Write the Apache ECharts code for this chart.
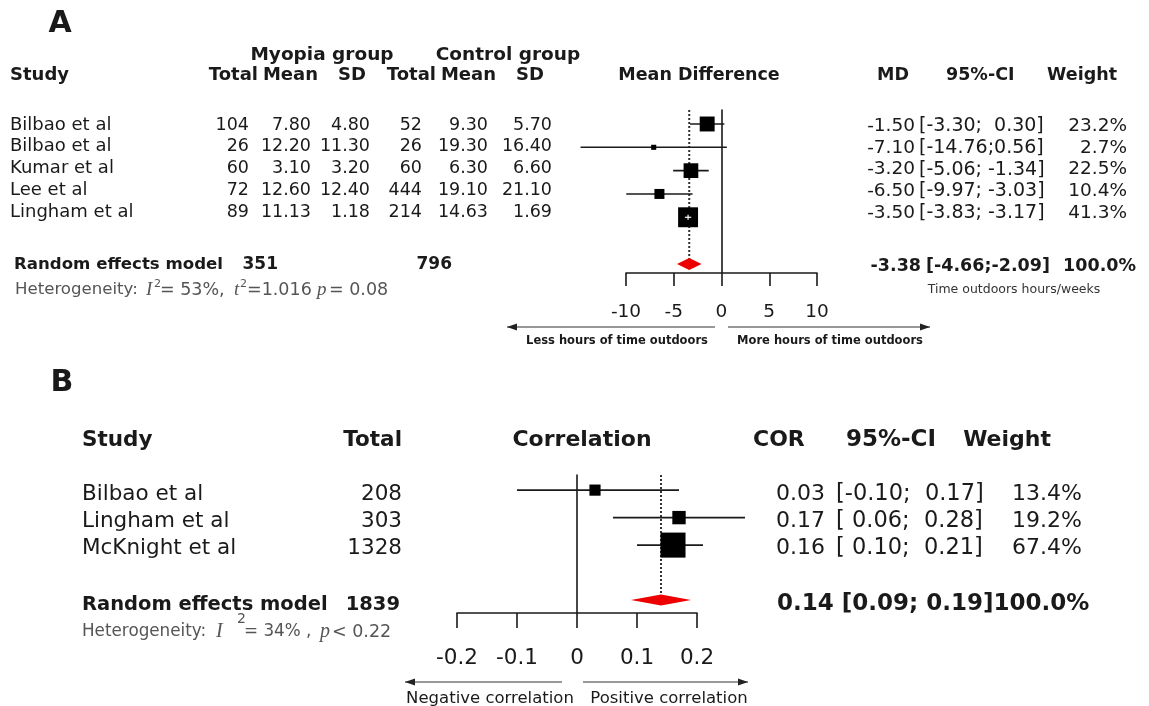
<!DOCTYPE html>
<html lang="en" style="height: 100%">
<head>
<meta charset="utf-8">
<title>Forest plots</title>
<script src="https://cdn.jsdelivr.net/npm/echarts@6/dist/echarts.min.js"></script>
</head>
<body style="height: 100%; margin: 0; background: #fff">
<div id="chart" style="width: 1149px; height: 706px"></div>
<script type="text/javascript">
// ---- panel A: mean difference in time outdoors ----
const studiesA = ['Bilbao et al', 'Bilbao et al', 'Kumar et al', 'Lee et al', 'Lingham et al'];
const myoTotal = [104, 26, 60, 72, 89];
const myoMean = [7.80, 12.20, 3.10, 12.60, 11.13];
const myoSD = [4.80, 11.30, 3.20, 12.40, 1.18];
const ctlTotal = [52, 26, 60, 444, 214];
const ctlMean = [9.30, 19.30, 6.30, 19.10, 14.63];
const ctlSD = [5.70, 16.40, 6.60, 21.10, 1.69];
const mdA = [-1.50, -7.10, -3.20, -6.50, -3.50];
const loA = [-3.30, -14.76, -5.06, -9.97, -3.83];
const hiA = [0.30, 0.56, -1.34, -3.03, -3.17];
const weightA = [23.2, 2.7, 22.5, 10.4, 41.3];
const poolA = [-3.38, -4.66, -2.09];
const totalsA = [351, 796];

// ---- panel B: correlation ----
const studiesB = ['Bilbao et al', 'Lingham et al', 'McKnight et al'];
const totalB = [208, 303, 1328];
const corB = [0.03, 0.17, 0.16];
const loB = [-0.10, 0.06, 0.10];
const hiB = [0.17, 0.28, 0.21];
const weightB = [13.4, 19.2, 67.4];
const poolB = [0.14, 0.09, 0.19];
const totalsB = 1839;

const FF = '"DejaVu Sans"';
const INK = '#1a1a1a';
const GREY = '#555';

function txt(x, y, text, size, opt) {
  opt = opt || {};
  return {
    type: 'text', x: x, y: y, silent: true,
    style: Object.assign({
      text: text,
      font: (opt.italic ? 'italic ' : '') + (opt.bold ? 'bold ' : '') + size + 'px ' + (opt.family || FF),
      fill: opt.fill || INK,
      align: opt.align || 'left',
      verticalAlign: 'middle'
    }, opt.style || {})
  };
}

function arrow(x1, x2, y, dir) {
  const tip = dir < 0 ? x1 : x2;
  return [
    { type: 'line', silent: true, shape: { x1: x1, y1: y, x2: x2, y2: y }, style: { stroke: '#333', lineWidth: 1 } },
    { type: 'polygon', silent: true, shape: { points: [[tip, y], [tip - dir * 10, y - 3.5], [tip - dir * 10, y + 3.5]] }, style: { fill: '#222' } }
  ];
}

// "[lo; hi]" the way the meta package pads it
function ci(lo, hi) {
  const l = (lo < 0 ? '' : ' ') + lo.toFixed(2);
  const h = hi.toFixed(2);
  const pad = l.length > 5 ? '' : (hi < 0 ? ' ' : '  ');
  return '[' + l + ';' + pad + h + ']';
}

// study squares + CI lines
function studyItem(k) {
  return function (params, api) {
    const row = api.value(0);
    const c = api.coord([api.value(1), row]);
    const a = api.coord([api.value(2), row]);
    const b = api.coord([api.value(3), row]);
    const s = k * Math.sqrt(api.value(4));
    const kids = [
      { type: 'line', shape: { x1: a[0], y1: c[1], x2: b[0], y2: c[1] }, style: { stroke: INK, lineWidth: 1.6 } },
      { type: 'rect', shape: { x: c[0] - s / 2, y: c[1] - s / 2, width: s, height: s }, style: { fill: '#000' } }
    ];
    if (b[0] - a[0] < s) {
      kids.push({ type: 'line', shape: { x1: a[0], y1: c[1], x2: b[0], y2: c[1] }, style: { stroke: '#fff', lineWidth: 1.2 } });
      kids.push({ type: 'line', shape: { x1: c[0], y1: c[1] - 2.5, x2: c[0], y2: c[1] + 2.5 }, style: { stroke: '#fff', lineWidth: 1.2 } });
    }
    return { type: 'group', children: kids };
  };
}

// pooled diamond + dotted reference line
function poolItem(topRow, half) {
  return function (params, api) {
    const row = api.value(0);
    const c = api.coord([api.value(1), row]);
    const t = api.coord([api.value(1), topRow]);
    const a = api.coord([api.value(2), row]);
    const b = api.coord([api.value(3), row]);
    return {
      type: 'group',
      children: [
        { type: 'line', shape: { x1: c[0], y1: t[1], x2: c[0], y2: c[1] }, style: { stroke: '#333', lineWidth: 2, lineDash: [2, 2] } },
        { type: 'polygon', shape: { points: [[a[0], c[1]], [c[0], c[1] - half], [b[0], c[1]], [c[0], c[1] + half]] }, style: { fill: '#ee0000' } }
      ]
    };
  };
}

const g = [];
// ---- panel A text ----
g.push(txt(60, 24, 'A', 30, { bold: true, align: 'center' }));
g.push(txt(322, 55, 'Myopia group', 18.5, { bold: true, align: 'center' }));
g.push(txt(508, 55, 'Control group', 18.5, { bold: true, align: 'center' }));
g.push(txt(10, 75, 'Study', 18, { bold: true }));
const headA = [['Total', 258], ['Mean', 318], ['SD', 366], ['Total', 436], ['Mean', 496], ['SD', 544]];
headA.forEach(h => g.push(txt(h[1], 75, h[0], 18, { bold: true, align: 'right' })));
g.push(txt(699, 75, 'Mean Difference', 17.5, { bold: true, align: 'center' }));
g.push(txt(877, 75, 'MD', 17.5, { bold: true }));
g.push(txt(946, 75, '95%-CI', 17.5, { bold: true }));
g.push(txt(1117, 75, 'Weight', 17.5, { bold: true, align: 'right' }));

const colA = [249, 311, 370, 422, 488, 552];
studiesA.forEach((s, i) => {
  const y = 125 + i * 21.8;
  g.push(txt(10, y, s, 18));
  const cells = [String(myoTotal[i]), myoMean[i].toFixed(2), myoSD[i].toFixed(2),
    String(ctlTotal[i]), ctlMean[i].toFixed(2), ctlSD[i].toFixed(2)];
  cells.forEach((c, j) => g.push(txt(colA[j], y, c, 17.5, { align: 'right' })));
  const yr = y + 1;
  g.push(txt(915, yr, mdA[i].toFixed(2), 18.5, { align: 'right' }));
  g.push(txt(919, yr, ci(loA[i], hiA[i]), 19));
  g.push(txt(1127, yr, weightA[i].toFixed(1) + '%', 18.5, { align: 'right' }));
});
g.push(txt(14, 265, 'Random effects model', 16.6, { bold: true }));
g.push(txt(278, 265, String(totalsA[0]), 17, { bold: true, align: 'right' }));
g.push(txt(452, 265, String(totalsA[1]), 17, { bold: true, align: 'right' }));
g.push(txt(921, 266, poolA[0].toFixed(2), 17.5, { bold: true, align: 'right' }));
g.push(txt(926, 266, '[' + poolA[1].toFixed(2) + ';' + poolA[2].toFixed(2) + ']', 17.5, { bold: true }));
g.push(txt(1136, 266, '100.0%', 17.5, { bold: true, align: 'right' }));
// heterogeneity line, pieces placed one by one so the italic symbols line up
const hetA = [
  [15, 'Heterogeneity:', { size: 16.6 }], [146, 'I', { italic: true, family: 'Liberation Serif', size: 19 }],
  [154, '2', { size: 11, dy: -6 }], [160, '= 53%,', {}],
  [234, 't', { italic: true, family: 'Liberation Serif', size: 19 }], [240, '2', { size: 11, dy: -6 }],
  [247, '=1.016', {}], [317, 'p', { italic: true, family: 'Liberation Serif', size: 19 }],
  [329, '= 0.08', {}]
];
hetA.forEach(p => g.push(txt(p[0], 290 + (p[2].dy || 0), p[1], p[2].size || 17.5,
  { fill: GREY, italic: p[2].italic, family: p[2].family })));
g.push(txt(1014, 290, 'Time outdoors hours/weeks', 12.5, { align: 'center', fill: '#333' }));
arrow(507, 715, 327, -1).forEach(e => g.push(e));
arrow(728, 930, 327, 1).forEach(e => g.push(e));
g.push(txt(617, 341, 'Less hours of time outdoors', 11.5, { bold: true, align: 'center' }));
g.push(txt(830, 341, 'More hours of time outdoors', 11.5, { bold: true, align: 'center' }));

// ---- panel B text ----
g.push(txt(62, 383, 'B', 30, { bold: true, align: 'center' }));
g.push(txt(82, 440, 'Study', 21.5, { bold: true }));
g.push(txt(402, 440, 'Total', 21.5, { bold: true, align: 'right' }));
g.push(txt(582, 440, 'Correlation', 22, { bold: true, align: 'center' }));
g.push(txt(753, 440, 'COR', 22, { bold: true }));
g.push(txt(846, 440, '95%-CI', 23, { bold: true }));
g.push(txt(1051, 440, 'Weight', 22, { bold: true, align: 'right' }));
studiesB.forEach((s, i) => {
  const y = 494 + i * 27;
  g.push(txt(82, y, s, 21.5));
  g.push(txt(402, y, String(totalB[i]), 21.5, { align: 'right' }));
  g.push(txt(825, y, corB[i].toFixed(2), 22, { align: 'right' }));
  g.push(txt(836, y, ci(loB[i], hiB[i]), 22.5));
  g.push(txt(1082, y, weightB[i].toFixed(1) + '%', 22, { align: 'right' }));
});
g.push(txt(82, 605, 'Random effects model', 19.5, { bold: true }));
g.push(txt(400, 605, String(totalsB), 19.5, { bold: true, align: 'right' }));
g.push(txt(777, 604, poolB[0].toFixed(2) + ' [' + poolB[1].toFixed(2) + '; ' + poolB[2].toFixed(2) + ']100.0%', 23, { bold: true }));
const hetB = [
  [82, 'Heterogeneity:', {}], [216, 'I', { italic: true, family: 'Liberation Serif', size: 20 }],
  [237, '2', { size: 14, dy: -13 }], [244, '= 34% ,', {}],
  [320, 'p', { italic: true, family: 'Liberation Serif', size: 20 }], [332, '< 0.22', { size: 17.5 }]
];
hetB.forEach(p => g.push(txt(p[0], 632 + (p[2].dy || 0), p[1], p[2].size || 16.8,
  { fill: GREY, italic: p[2].italic, family: p[2].family })));
arrow(405, 562, 682, -1).forEach(e => g.push(e));
arrow(583, 748, 682, 1).forEach(e => g.push(e));
g.push(txt(490, 699, 'Negative correlation', 16.5, { align: 'center' }));
g.push(txt(669, 699, 'Positive correlation', 16.5, { align: 'center' }));

const axisStyle = { lineStyle: { color: INK, width: 1.6 } };

const chart = echarts.init(document.getElementById('chart'));
chart.setOption({
  animation: false,
  backgroundColor: '#fff',
  grid: [
    { left: 626, top: 110, width: 191, height: 163 },
    { left: 457, top: 475, width: 240, height: 138 }
  ],
  xAxis: [
    {
      gridIndex: 0, type: 'value', min: -10, max: 10, interval: 5,
      axisLine: Object.assign({ onZero: false }, axisStyle),
      axisTick: { length: 13, lineStyle: { color: INK, width: 1.6 } },
      axisLabel: { margin: 30, fontSize: 18.5, color: INK, fontFamily: 'DejaVu Sans' },
      splitLine: { show: false }
    },
    {
      gridIndex: 1, type: 'value', min: -0.2, max: 0.2, interval: 0.1,
      axisLine: Object.assign({ onZero: false }, axisStyle),
      axisTick: { length: 15, lineStyle: { color: INK, width: 1.6 } },
      axisLabel: { margin: 34, fontSize: 21.5, color: INK, fontFamily: 'DejaVu Sans' },
      splitLine: { show: false }
    }
  ],
  yAxis: [
    {
      gridIndex: 0, type: 'value', inverse: true, min: -0.6, max: 6.39,
      axisLine: Object.assign({ show: true, onZero: true }, axisStyle),
      axisTick: { show: false }, axisLabel: { show: false }, splitLine: { show: false }
    },
    {
      gridIndex: 1, type: 'value', inverse: true, min: -0.55, max: 4.47,
      axisLine: Object.assign({ show: true, onZero: true }, axisStyle),
      axisTick: { show: false }, axisLabel: { show: false }, splitLine: { show: false }
    }
  ],
  series: [
    {
      type: 'custom', xAxisIndex: 0, yAxisIndex: 0, clip: false, silent: true,
      renderItem: poolItem(-0.6, 6),
      data: [[6, poolA[0], poolA[1], poolA[2]]]
    },
    {
      type: 'custom', xAxisIndex: 0, yAxisIndex: 0, clip: false, silent: true,
      renderItem: studyItem(3.1),
      data: mdA.map((v, i) => [i, v, loA[i], hiA[i], weightA[i]])
    },
    {
      type: 'custom', xAxisIndex: 1, yAxisIndex: 1, clip: false, silent: true,
      renderItem: poolItem(-0.55, 5.5),
      data: [[4, poolB[0], poolB[1], poolB[2]]]
    },
    {
      type: 'custom', xAxisIndex: 1, yAxisIndex: 1, clip: false, silent: true,
      renderItem: studyItem(3.05),
      data: corB.map((v, i) => [i, v, loB[i], hiB[i], weightB[i]])
    }
  ],
  graphic: g
});
</script>
</body>
</html>
